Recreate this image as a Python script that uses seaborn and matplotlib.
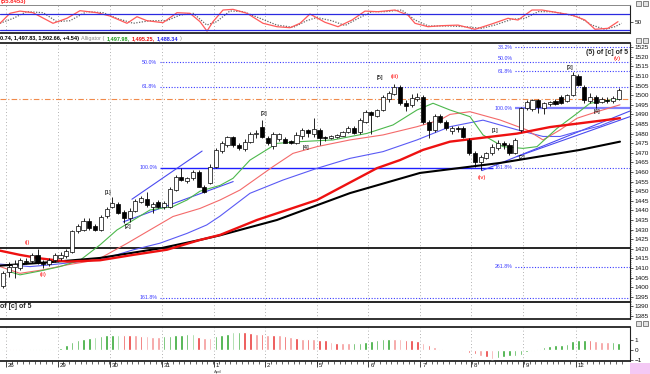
import numpy as np
import pandas as pd
import matplotlib
matplotlib.use("Agg")
import matplotlib.pyplot as plt
import seaborn as sns
from matplotlib.patches import Rectangle

sns.set_theme(style="white")
plt.rcParams["font.family"] = ["Liberation Sans", "DejaVu Sans"]

# hourly candles (bar 0..107)
opens = [1400.5, 1408, 1410.5, 1410, 1413.5, 1413.5, 1416.5, 1413, 1412, 1414,
         1415, 1416, 1418.5, 1429, 1430, 1434.5, 1432, 1430, 1437, 1442,
         1443.5, 1439, 1436, 1439.5, 1444.5, 1445.7, 1442, 1444.5, 1441.5, 1441.5,
         1450.5, 1457.6, 1455.5, 1456.7, 1460, 1452.4, 1454.5, 1462.8, 1471, 1474,
         1478, 1474, 1471.8, 1475.8, 1480, 1483.2, 1477.5, 1473.5, 1477, 1477,
         1476, 1475, 1479, 1482, 1479.8, 1482, 1478, 1477.8, 1478, 1479,
         1481, 1483, 1481, 1486, 1491.4, 1489, 1492.3, 1498, 1500.5, 1504.4,
         1496, 1495, 1498, 1498.9, 1486.2, 1482, 1489.2, 1486.2, 1481.5, 1483,
         1482.7, 1476.7, 1470, 1465.4, 1467.5, 1469.7, 1472.3, 1475, 1474, 1470,
         1482, 1493.2, 1493, 1497.5, 1493.5, 1495.5, 1497, 1499.2, 1497, 1500,
         1510, 1504.5, 1497, 1499, 1496.5, 1497.5, 1497, 1498]
highs = [1408.5, 1413, 1414, 1415, 1415, 1418, 1419.7, 1414, 1415, 1418,
         1418.5, 1420, 1430, 1433, 1436, 1436, 1433, 1437.5, 1441.5, 1447,
         1444.5, 1440, 1441, 1446, 1447.5, 1449.7, 1444.5, 1445.5, 1445, 1452,
         1458.5, 1462, 1457.5, 1461, 1461, 1453, 1464, 1472.5, 1476, 1479,
         1479, 1475, 1477, 1481, 1482, 1487, 1478.5, 1481, 1480.5, 1478,
         1476.5, 1481, 1483, 1482.5, 1488, 1483, 1479, 1479.5, 1480, 1481.5,
         1484, 1484, 1488, 1492.5, 1492, 1493, 1500, 1502, 1506, 1505.5,
         1497.5, 1500.5, 1501, 1500, 1487, 1490, 1490, 1487, 1484, 1484,
         1484, 1477.5, 1471, 1469, 1470.5, 1474.5, 1476.5, 1476, 1475, 1477.5,
         1494, 1497.5, 1498, 1498, 1496.5, 1497, 1498, 1500, 1500.5, 1512,
         1511, 1505.5, 1501, 1500, 1499, 1499, 1499.5, 1503.5]
lows = [1399.5, 1405.5, 1405, 1409, 1412, 1412.5, 1412, 1410, 1411, 1413,
        1414, 1415, 1418, 1428, 1429, 1430, 1429, 1429.5, 1436, 1441,
        1438, 1433.3, 1434, 1439, 1444, 1442, 1438.5, 1441, 1440.5, 1441,
        1450, 1455.5, 1454, 1456, 1452, 1449, 1453.5, 1462, 1470, 1473,
        1473, 1471.5, 1471, 1475, 1477.5, 1477.5, 1474, 1472, 1476, 1475,
        1474.5, 1474.5, 1477, 1478, 1478, 1474, 1476, 1477, 1477.5, 1478.5,
        1480.5, 1480, 1480, 1485.5, 1480, 1488.5, 1492, 1496.5, 1500, 1495,
        1492, 1494, 1497, 1485, 1477.5, 1481, 1485.5, 1482, 1480, 1481,
        1477.5, 1469, 1462.8, 1461, 1467, 1469, 1471.5, 1472, 1469, 1469.5,
        1481, 1492.5, 1492, 1490.5, 1490, 1494.5, 1495, 1495.5, 1496.5, 1499.5,
        1505, 1495.8, 1496, 1493.2, 1496, 1496, 1496, 1497.5]
closes = [1407.5, 1410.5, 1412, 1414, 1413, 1416.5, 1413, 1411.8, 1414, 1417,
          1417, 1419, 1429, 1432, 1434.5, 1430.6, 1430, 1436.4, 1440.6, 1444,
          1438.8, 1436, 1439.7, 1445, 1446.3, 1442.8, 1443.5, 1442, 1444, 1451,
          1457.6, 1456, 1456.7, 1460.2, 1452.4, 1449.8, 1462.8, 1471.5, 1475, 1478,
          1474, 1472.3, 1475.8, 1479.8, 1480.5, 1478.4, 1475, 1479.8, 1479.8, 1475.3,
          1475.2, 1479.3, 1481.8, 1480.3, 1482.4, 1477.5, 1477.8, 1478.8, 1479.3, 1481,
          1483, 1480.5, 1487, 1491.4, 1489.7, 1492.3, 1498.9, 1501, 1504.4, 1495.8,
          1494.5, 1498.3, 1499, 1486.2, 1481.8, 1489.2, 1486.2, 1482.7, 1483, 1482.5,
          1478.4, 1469.7, 1465.4, 1468, 1469.7, 1473.2, 1475.3, 1474, 1469.7, 1476.7,
          1493.2, 1496.6, 1497.5, 1494, 1495.8, 1496.6, 1495.5, 1496, 1500, 1510.5,
          1505.3, 1497.5, 1499, 1496, 1498, 1497.2, 1498.8, 1502.6]

# moving averages (bar position, price)
sma_red_x = [-0.52, 2.95, 6.43, 11.12, 16.85, 22.59, 28.5, 34.23, 37.71, 44.14,
             54.56, 64.99, 68.98, 72.98, 77.67, 89.31, 95.05, 107.21]
sma_red_y = [1419, 1416.8, 1415, 1413.3, 1414, 1416.8, 1419.5, 1424.6, 1427.2, 1435,
             1445.4, 1462, 1466.2, 1471.5, 1475.8, 1480, 1483.4, 1488]
sma_black_x = [-0.52, 8.17, 16.85, 27.28, 34.23, 37.71, 47.61, 60.3, 72.46, 86.36,
               100.26, 107.21]
sma_black_y = [1411.2, 1413, 1415.2, 1420.2, 1424.6, 1427, 1435, 1449, 1459.5, 1464.7,
               1471.5, 1475.8]

# Alligator: lips (green), teeth (red), jaw (blue)
lips_x = [1.22, 2.95, 6.43, 9.9, 13.38, 16.85, 19.81, 25.54, 29.54, 31.97, 34.23,
          37.71, 39.97, 42.92, 47.61, 51.61, 57.34, 63.25, 67.77, 71.94, 74.72,
          77.67, 81.15, 83.41, 86.88, 90.36, 92.79, 96.26, 99.74, 102.0, 105.47, 107.21]
lips_y = [1408, 1406.4, 1408.4, 1410.7, 1414, 1422, 1429.8, 1440.2, 1442, 1445.4, 1450,
          1453, 1456.7, 1466.2, 1474.9, 1475.8, 1476.7, 1480.1, 1484.5, 1492.3, 1495.8,
          1492.3, 1488.8, 1479.3, 1473.2, 1472.3, 1473.2, 1482.7, 1490.5, 1495.8, 1497.5, 1497.9]
teeth_x = [-0.52, 2.95, 6.95, 11.12, 14.6, 16.85, 21.55, 25.54, 29.54, 34.23, 37.71,
           41.18, 46.92, 50.39, 54.56, 60.3, 66.03, 71.94, 75.93, 77.67, 81.15, 86.36,
           91.05, 93.83, 96.79, 99.74, 103.21, 107.21]
teeth_y = [1410.7, 1407.2, 1409, 1411.6, 1413.3, 1415, 1422.8, 1429.8, 1436.8, 1441, 1445.4,
           1450.6, 1462.8, 1469.7, 1473.2, 1476.7, 1479.3, 1483.6, 1487.1, 1490, 1491.4, 1487.1,
           1481.9, 1476.7, 1481.9, 1488, 1491.4, 1495]
jaw_x = [-0.52, 4.69, 8.17, 13.38, 16.85, 22.59, 27.28, 31.97, 35.4, 37.71, 42.92,
         48.65, 54.56, 60.3, 66.03, 71.94, 77.67, 83.41, 89.31, 93.83, 96.79, 99.74,
         103.74, 107.21]
jaw_y = [1412, 1410.7, 1411.6, 1413.3, 1414.2, 1419.4, 1422.9, 1428, 1432.4, 1437, 1448.9,
         1455.8, 1461.9, 1467.1, 1470.6, 1476.7, 1483.6, 1487, 1482, 1478.5, 1478.5, 1481,
         1484, 1488.3]

# oscillator (top panel)
osc_x = [-0.52, 1.22, 2.95, 5.21, 8.69, 11.12, 13.38, 16.33, 18.59, 21.55, 23.28, 25.02,
         27.8, 30.23, 32.49, 34.23, 35.45, 36.49, 38.23, 39.97, 42.4, 45.18, 47.61, 49.87,
         51.61, 53.34, 55.95, 58.21, 60.64, 62.9, 65.16, 68.11, 70.37, 71.59, 73.85, 76.28,
         79.06, 82.02, 84.97, 87.75, 89.49, 91.92, 93.66, 96.44, 98.87, 101.13, 102.87,
         105.13, 106.86]
osc_y = [45.5, 70.5, 76, 72, 45.5, 58, 77, 72, 63.7, 45.5, 62, 52, 47, 72, 70.5, 49.6, 26,
         49.6, 78.7, 80.4, 70.5, 45.5, 37, 34.5, 45.5, 68.7, 48, 37, 53.7, 76, 74.5, 78.7,
         66, 45.5, 37, 39.6, 41, 30.5, 44, 58, 53.7, 78.7, 78.7, 72, 66, 53.7, 30.5, 33, 49.6]
sig_x = [-0.52, 1.79, 4.12, 7.0, 9.33, 11.64, 14.54, 17.43, 19.76, 22.64, 25.54, 28.44,
         30.76, 33.07, 35.4, 37.13, 39.44, 41.76, 44.66, 47.56, 50.44, 52.77, 54.51, 57.11,
         59.43, 61.74, 64.07, 66.38, 69.28, 71.59, 73.9, 77.38, 80.28, 83.18, 85.49, 88.39,
         90.7, 93.02, 95.34, 97.65, 99.96, 102.29, 104.6, 106.34, 107.5]
sig_y = [45.5, 58, 74.6, 72, 49.6, 52, 74.6, 72, 58, 45.5, 52, 52, 66, 70.4, 41.2, 49.6,
         76.3, 74.6, 58, 41.2, 35.4, 52, 60, 52, 40, 58, 74.6, 74.6, 78.8, 53.8, 38.8, 38.8,
         37.1, 32.9, 41.2, 55.4, 58, 74.6, 74.6, 68.8, 62.1, 41.2, 30.4, 37.1, 45.5]

# bottom histogram, one bar per candle; G/g green shades, R/r red shades
hist_vals = [0.1, 0.1, 0.1, 0.1, 0.05, 0.1, 0.1, 0.12, 0.15, 0.15,
             0.2, 0.55, 0.8, 1.0, 1.15, 1.25, 1.35, 1.4, 1.5, 1.5,
             1.5, 1.5, 1.5, 1.5, 1.45, 1.4, 1.35, 1.35, 1.4, 1.45,
             1.5, 1.5, 1.65, 1.6, 1.35, 1.25, 1.25, 1.4, 1.5, 1.65,
             1.85, 1.85, 1.85, 1.75, 1.65, 1.65, 1.55, 1.55, 1.5, 1.4,
             1.3, 1.2, 1.1, 1.1, 1.1, 1.0, 1.0, 0.85, 0.75, 0.67,
             0.67, 0.67, 0.75, 0.85, 0.95, 1.0, 1.1, 1.15, 1.1, 1.15,
             1.05, 1.0, 0.95, 0.67, 0.5, 0.33, 0.15, 0.05, 0.05, 0.05,
             -0.05, -0.33, -0.4, -0.55, -0.65, -0.85, -0.8, -0.7, -0.6, -0.55,
             -0.45, -0.2, -0.05, 0.1, 0.3, 0.45, 0.5, 0.55, 0.6, 0.95,
             1.0, 1.0, 1.0, 0.95, 0.85, 0.8, 0.8, 0.75]
hist_cols = list("GRRGgGGGGG" "GGGGGGgGGG" "gRRrRrrrGG" "GGGgRrrGGG"
                 "gGRRrRrRrR" "rRrRrRRrRr" "rGGGGGGGrr" "RRRrRrRrrG"
                 "rRRrRrGGGG" "GGgGGGGGGG" "GGRrrrGG")

day_pos = [0.5, 9.5, 18.6, 27.6, 36.6, 45.5, 54.6, 63.5, 72.5, 81.4, 90.4, 99.5]
day_labels = ["26", "29", "30", "31", "1", "2", "5", "6", "7", "8", "9", "12"]

bars = np.arange(len(opens))
df = pd.DataFrame({"bar": bars, "open": opens, "high": highs, "low": lows, "close": closes})

fig = plt.figure(figsize=(6.5, 3.74), dpi=100)


def fx(px):
    return px / 650


def fy(py):
    return 1 - py / 374


ax_osc = fig.add_axes([0, fy(33), fx(630), 28 / 374])
ax_main = fig.add_axes([0, fy(319), fx(630), 276 / 374])
ax_hist = fig.add_axes([0, fy(361), fx(630), 34 / 374])

XL = (-0.52, 108.95)
for ax in (ax_osc, ax_main, ax_hist):
    ax.set_xlim(*XL)
    ax.set_facecolor("white")
    for x in day_pos:
        ax.axvline(x, color="#999999", ls=(0, (1, 3)), lw=0.6, zorder=0)
    ax.spines["left"].set_visible(False)
    for s in ("top", "bottom"):
        ax.spines[s].set_color("#222222")
        ax.spines[s].set_linewidth(1.3)
    ax.spines["right"].set_color("#222222")
    ax.spines["right"].set_linewidth(0.8)
    ax.yaxis.tick_right()
    ax.tick_params(axis="y", labelsize=4.6, length=2, width=0.5, pad=1.5, colors="#111111")
    ax.tick_params(axis="x", bottom=False, labelbottom=False)

# ---- oscillator
sns.lineplot(x=sig_x, y=sig_y, ax=ax_osc, color="#666666", lw=0.9, ls=(0, (1, 1.2)), legend=False)
sns.lineplot(x=osc_x, y=osc_y, ax=ax_osc, color="#ff5a5a", lw=0.9, legend=False)
ax_osc.axhline(70, color="#2a2ae0", lw=0.9)
ax_osc.axhline(30, color="#2a2ae0", lw=0.9)
ax_osc.set_ylim(21.25, 91.25)
ax_osc.set_yticks([50])
ax_osc.set_ylabel("")
ax_osc.spines["top"].set_linewidth(0.7)
ax_osc.spines["top"].set_color("#888888")

# ---- main price panel
ax_main.set_ylim(1383.4, 1527.2)
ax_main.set_yticks(np.arange(1385, 1530, 5))
ax_main.set_yticks(np.arange(1384, 1527, 1), minor=True)
ax_main.tick_params(axis="y", which="minor", length=1, width=0.4, right=True)

full = dict(xmin=XL[0], xmax=XL[1])
ax_main.hlines(1420.3, lw=1.2, color="black", zorder=2, **full)
ax_main.hlines(1392.3, lw=1.2, color="black", zorder=2, **full)
ax_main.hlines(1497.8, lw=0.8, color="#f08a4b", ls=(0, (5, 2, 1, 2)), zorder=2, **full)

fib_blue = "#3a3aff"
dot = (0, (1, 1.5))
left_x0, right_x0 = 27.3, 88.96
ax_main.hlines([1517.4, 1504.4, 1394.4], left_x0, XL[1], color=fib_blue, lw=0.8, ls=dot, zorder=2)
ax_main.hlines(1462.1, left_x0, 85.1, color="#1f1fff", lw=1.0, zorder=2)
ax_main.hlines([1525.3, 1512.8, 1462.1, 1410.5], right_x0, XL[1], color=fib_blue, lw=0.8, ls=dot, zorder=2)
ax_main.hlines(1493.2, right_x0, XL[1], color="#8080ff", lw=1.6, zorder=2)

fib_texts = [(26.8, 1517.3, "50.0%"), (26.8, 1504.3, "61.8%"), (26.8, 1462.1, "100.0%"),
             (26.8, 1394.4, "161.8%"), (88.6, 1525.1, "38.2%"), (88.6, 1518.9, "50.0%"),
             (88.6, 1512.6, "61.8%"), (88.6, 1493.3, "100.0%"), (88.6, 1462.1, "161.8%"),
             (88.6, 1410.5, "261.8%")]
for x, y, t in fib_texts:
    ax_main.text(x, y, t, color=fib_blue, fontsize=3.8, ha="right", va="center", zorder=6)

# trendlines
for (x0, y0, x1, y1) in [(22.4, 1445.8, 34.6, 1470.9), (20.9, 1434, 40, 1455),
                         (83.2, 1460.7, 108.9, 1491.7), (89.3, 1468, 108.9, 1488.8)]:
    ax_main.plot([x0, x1], [y0, y1], color="#4a4af0", lw=0.8, zorder=2)

sns.lineplot(x=jaw_x, y=jaw_y, ax=ax_main, color="#5a5af5", lw=0.8, legend=False, zorder=3)
sns.lineplot(x=teeth_x, y=teeth_y, ax=ax_main, color="#f46a6a", lw=0.8, legend=False, zorder=3)
sns.lineplot(x=lips_x, y=lips_y, ax=ax_main, color="#4cb84c", lw=0.8, legend=False, zorder=3)
sns.lineplot(x=sma_black_x, y=sma_black_y, ax=ax_main, color="black", lw=1.5, legend=False, zorder=3)
sns.lineplot(x=sma_red_x, y=sma_red_y, ax=ax_main, color="#ee1111", lw=1.7, legend=False, zorder=3)

up = df["close"] >= df["open"]
ax_main.vlines(df["bar"], df["low"], df["high"], color="black", lw=0.6, zorder=4)
ax_main.bar(df["bar"], (df["close"] - df["open"]).abs().clip(lower=0.35),
            bottom=df[["open", "close"]].min(axis=1), width=0.72,
            color=np.where(up, "white", "black"), edgecolor="black", linewidth=0.5, zorder=5)

waves = [(4.17, 1423.5, "(i)", "red"), (6.95, 1406.4, "(ii)", "red"),
         (18.2, 1449.1, "[1]", "black"), (21.7, 1431.4, "[2]", "black"),
         (45.4, 1490.7, "[3]", "black"), (52.6, 1473.0, "[4]", "black"),
         (65.5, 1509.0, "[5]", "black"), (68.0, 1510.0, "(iii)", "red"),
         (83.2, 1456.9, "(iv)", "red"), (85.5, 1481.4, "[1]", "black"),
         (90.2, 1467.8, "[2]", "black"), (98.5, 1514.2, "[3]", "black"),
         (103.2, 1491.3, "[4]", "black"), (106.7, 1518.9, "(v)", "red")]
for x, y, t, c in waves:
    ax_main.text(x, y, t, color=c, fontsize=4.3, ha="center", va="center", zorder=7)
ax_main.text(105.0, 1522.0, "(5) of [c] of 5", fontsize=5, fontweight="bold", ha="center",
             va="center", zorder=7)
ax_main.text(-0.45, 1389.7, "of [c] of 5", fontsize=5, fontweight="bold", ha="left",
             va="center", zorder=7)

# ---- histogram
cmap = {"G": "#34a834", "g": "#86cf86", "R": "#ea3c3c", "r": "#f59a9a"}
ax_hist.bar(bars, hist_vals, width=0.45, color=[cmap[c] for c in hist_cols], zorder=3)
ax_hist.set_ylim(-1.1, 2.3)
ax_hist.set_yticks([-1, 0, 1])
ax_hist.set_xticks(day_pos)
ax_hist.set_xticks(bars + 0.5, minor=True)
ax_hist.tick_params(axis="x", which="major", bottom=True, length=4, width=0.6, direction="out",
                    labelbottom=False, color="#222222")
ax_hist.tick_params(axis="x", which="minor", bottom=True, length=2, width=0.5, direction="out",
                    color="#222222")
for x, t in zip(day_pos, day_labels):
    ax_hist.text(x + 0.35, -0.07, t, transform=ax_hist.get_xaxis_transform(),
                 fontsize=4.4, ha="left", va="top", color="#111111")
fig.text(fx(214), fy(371.5), "April", fontsize=3.0, color="#555555", ha="left", va="center")

# ---- header texts, laid out one after the other
fig.text(fx(1), fy(1.5), "(55.8453)", color="#ff2020", fontsize=4.3, fontweight="bold",
         ha="left", va="center")
renderer = fig.canvas.get_renderer()
hdr = [("0.74, 1,497.83, 1,502.66, +4.54)", "black", "bold"),
       ("Alligator (", "#888888", "normal"),
       ("1,497.98,", "#1a9a1a", "bold"),
       ("1,495.25,", "#ee1111", "bold"),
       ("1,488.34", "#2222ee", "bold"),
       (")", "#888888", "normal")]
cur = 0.0
for t, c, w in hdr:
    txt = fig.text(cur, fy(38.5), t, fontsize=4.0, color=c, fontweight=w, ha="left", va="center")
    bb = txt.get_window_extent(renderer)
    cur = (bb.x1 + 2) / fig.bbox.width

# little window buttons and corner box
for yy in (0, 37, 320):
    for xx in (636, 643):
        fig.patches.append(Rectangle((fx(xx), fy(yy + 6)), 5 / 650, 5 / 374, transform=fig.transFigure,
                                     facecolor="#e4e4e4", edgecolor="#555555", lw=0.5))
fig.patches.append(Rectangle((fx(630), 0), 20 / 650, 11 / 374, transform=fig.transFigure,
                             facecolor="#f4c8f4", edgecolor="none"))

fig.savefig("out.png", dpi=100)
